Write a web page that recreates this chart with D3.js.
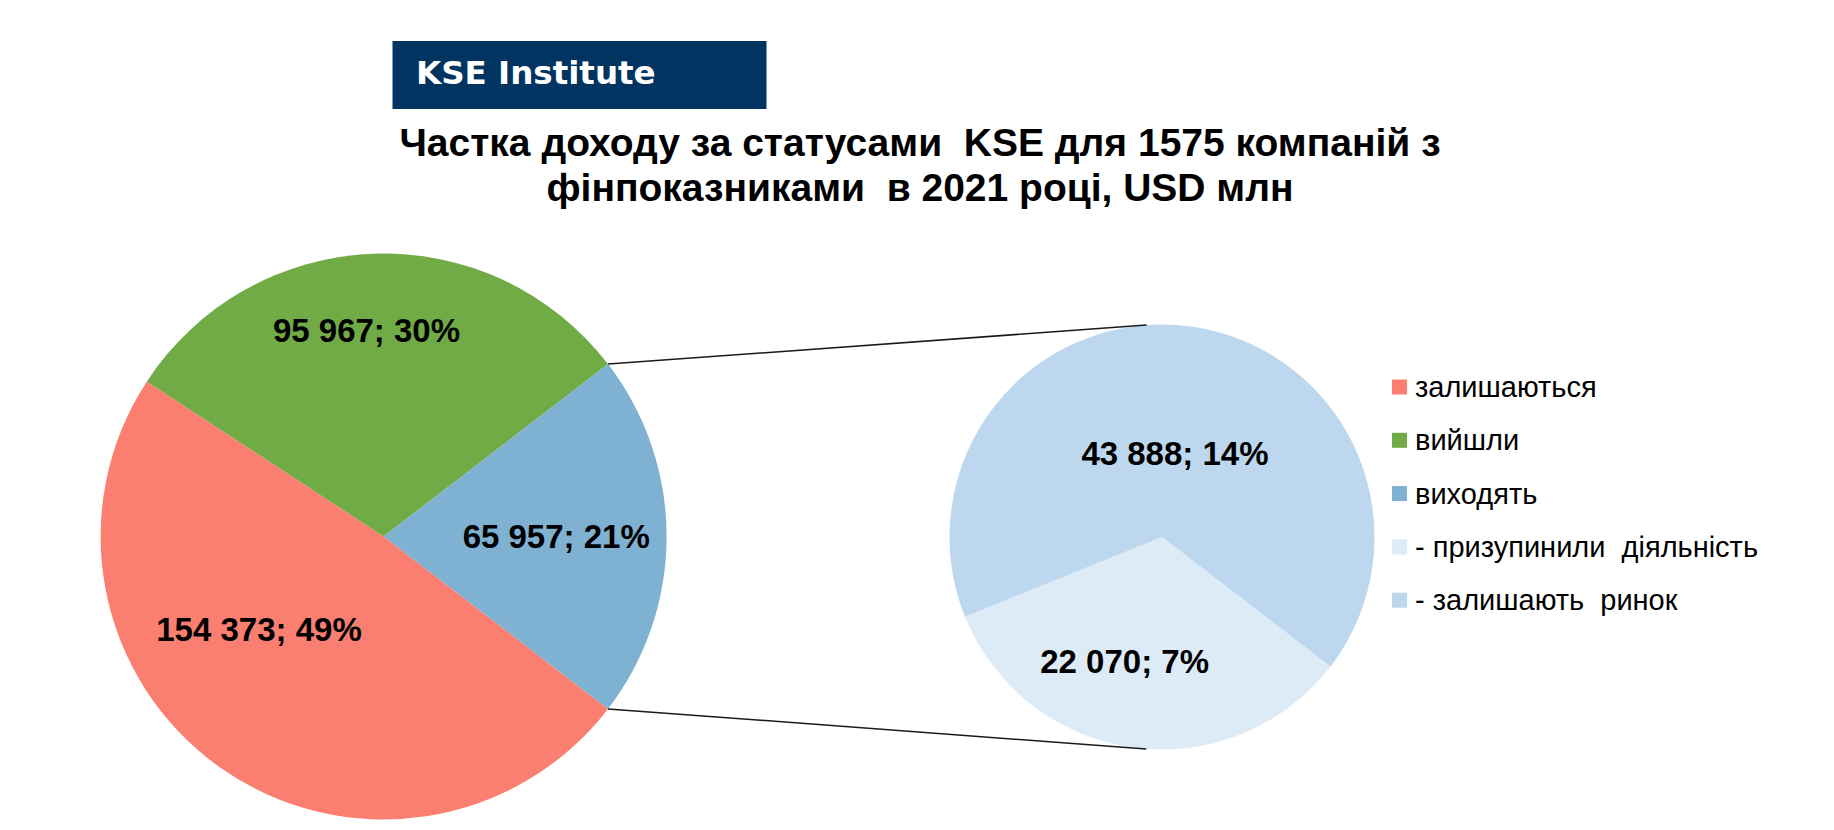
<!DOCTYPE html>
<html lang="uk">
    <head>
        <meta charset="utf-8">
        <title>Частка доходу за статусами KSE</title>
        <script type="text/javascript" src="https://cdn.jsdelivr.net/npm/d3@7"></script>
        <style type="text/css">
            body { margin: 0; background: #fff; }
            text { white-space: pre; }
        </style>
    </head>
    <body>
        <script type="text/javascript">
            //Canvas
            var w = 1834;
            var h = 830;

            //Data: first pie (all companies) and the split-off pie (those who are leaving)
            var mainLabels = ["залишаються", "вийшли", "виходять"];
            var mainValues = [154373, 95967, 65957];
            var subLabels = ["- призупинили  діяльність", "- залишають  ринок"];
            var subValues = [22070, 43888];
            var titleLines = ["Частка доходу за статусами  KSE для 1575 компаній з",
                              "фінпоказниками  в 2021 році, USD млн"];

            //Colours, same order as the data above
            var mainColors = ["#fa7f70", "#70ab46", "#7fb1d3"];
            var subColors = ["#ddebf7", "#bdd7ee"];

            //Where each data label sits: [fraction of radius, angle shift in degrees]
            var mainLabelPos = [[0.55, 17.8], [0.73, -2.6], [0.61, 0]];
            var subLabelPos = [[0.61, 9], [0.40, 1]];

            var svg = d3.select("body")
                        .append("svg")
                        .attr("width", w)
                        .attr("height", h);

            //Number format with a space as thousands separator
            var loc = d3.formatLocale({decimal: ",", thousands: " ", grouping: [3], currency: ["", ""]});
            var fmtNum = loc.format(",d");
            var total = d3.sum(mainValues);
            function labelText(v) {
                return fmtNum(v) + "; " + Math.round(v / total * 100) + "%";
            }

            //KSE Institute banner
            svg.append("rect")
                .attr("x", 392.5)
                .attr("y", 41)
                .attr("width", 374)
                .attr("height", 68)
                .attr("fill", "#013461");
            svg.append("text")
                .attr("x", 416)
                .attr("y", 84)
                .attr("font-family", "DejaVu Sans")
                .attr("font-weight", "bold")
                .attr("font-size", "32.5px")
                .attr("fill", "#fff")
                .text("KSE Institute");

            //Title
            svg.selectAll("text.title")
                .data(titleLines)
                .enter()
                .append("text")
                .attr("class", "title")
                .attr("x", 920)
                .attr("y", function(d, i) { return 156 + i * 45; })
                .attr("text-anchor", "middle")
                .attr("font-family", "Liberation Sans, Arial, sans-serif")
                .attr("font-weight", "bold")
                .attr("font-size", "39px")
                .text(function(d) { return d; });

            //First pie: the split slice (last one) is centred at 3 o'clock
            var c1 = [383.6, 536.5], r1 = 283;
            var c2 = [1162, 537], r2 = 212.5;
            var splitAngle = mainValues[2] / total * 2 * Math.PI;
            var start = Math.PI / 2 + splitAngle / 2;

            var pie1 = d3.pie().sort(null).startAngle(start).endAngle(start + 2 * Math.PI);
            var pie2 = d3.pie().sort(null).startAngle(start).endAngle(start + 2 * Math.PI);
            var arc1 = d3.arc().innerRadius(0).outerRadius(r1);
            var arc2 = d3.arc().innerRadius(0).outerRadius(r2);

            var mainArcs = pie1(mainValues);
            var subArcs = pie2(subValues);

            var g1 = svg.append("g").attr("transform", "translate(" + c1[0] + "," + c1[1] + ")");
            g1.selectAll("path")
                .data(mainArcs)
                .enter()
                .append("path")
                .attr("d", arc1)
                .attr("fill", function(d, i) { return mainColors[i]; });

            var g2 = svg.append("g").attr("transform", "translate(" + c2[0] + "," + c2[1] + ")");
            g2.selectAll("path")
                .data(subArcs)
                .enter()
                .append("path")
                .attr("d", arc2)
                .attr("fill", function(d, i) { return subColors[i]; });

            //Connector lines: from the edges of the split slice, tangent to the second pie
            var split = mainArcs[2];
            function polar(c, r, a) { return [c[0] + r * Math.sin(a), c[1] - r * Math.cos(a)]; }
            function tangent(p, sign) {
                var dx = p[0] - c2[0], dy = p[1] - c2[1];
                var d = Math.sqrt(dx * dx + dy * dy);
                var base = Math.atan2(dy, dx);
                var t = base + sign * Math.acos(r2 / d);
                return [c2[0] + r2 * Math.cos(t), c2[1] + r2 * Math.sin(t)];
            }
            var pTop = polar(c1, r1, split.startAngle);
            var pBot = polar(c1, r1, split.endAngle);
            var connectors = [[pTop, tangent(pTop, 1)], [pBot, tangent(pBot, -1)]];
            svg.selectAll("line.conn")
                .data(connectors)
                .enter()
                .append("line")
                .attr("class", "conn")
                .attr("x1", function(d) { return d[0][0]; })
                .attr("y1", function(d) { return d[0][1]; })
                .attr("x2", function(d) { return d[1][0]; })
                .attr("y2", function(d) { return d[1][1]; })
                .attr("stroke", "#1a1a1a")
                .attr("stroke-width", 1.5);

            //Data labels
            function addLabels(g, arcs, r, pos) {
                g.selectAll("text")
                    .data(arcs)
                    .enter()
                    .append("text")
                    .attr("x", function(d, i) {
                        var a = (d.startAngle + d.endAngle) / 2 + pos[i][1] * Math.PI / 180;
                        return pos[i][0] * r * Math.sin(a);
                    })
                    .attr("y", function(d, i) {
                        var a = (d.startAngle + d.endAngle) / 2 + pos[i][1] * Math.PI / 180;
                        return -pos[i][0] * r * Math.cos(a);
                    })
                    .attr("text-anchor", "middle")
                    .attr("dominant-baseline", "central")
                    .attr("font-family", "Liberation Sans, Arial, sans-serif")
                    .attr("font-weight", "bold")
                    .attr("font-size", "33px")
                    .text(function(d) { return labelText(d.value); });
            }
            addLabels(g1, mainArcs, r1, mainLabelPos);
            addLabels(g2, subArcs, r2, subLabelPos);

            //Legend
            var legendLabels = mainLabels.concat(subLabels);
            var legendColors = mainColors.concat(subColors);
            var legend = svg.selectAll("g.legend")
                .data(legendLabels)
                .enter()
                .append("g")
                .attr("class", "legend")
                .attr("transform", function(d, i) { return "translate(1392," + (387 + i * 53.3) + ")"; });
            legend.append("rect")
                .attr("x", 0)
                .attr("y", -7.5)
                .attr("width", 15)
                .attr("height", 15)
                .attr("fill", function(d, i) { return legendColors[i]; });
            legend.append("text")
                .attr("x", 23)
                .attr("y", 0)
                .attr("dominant-baseline", "central")
                .attr("font-family", "Liberation Sans, Arial, sans-serif")
                .attr("font-size", "29px")
                .text(function(d) { return d; });
        </script>
    </body>
</html>
